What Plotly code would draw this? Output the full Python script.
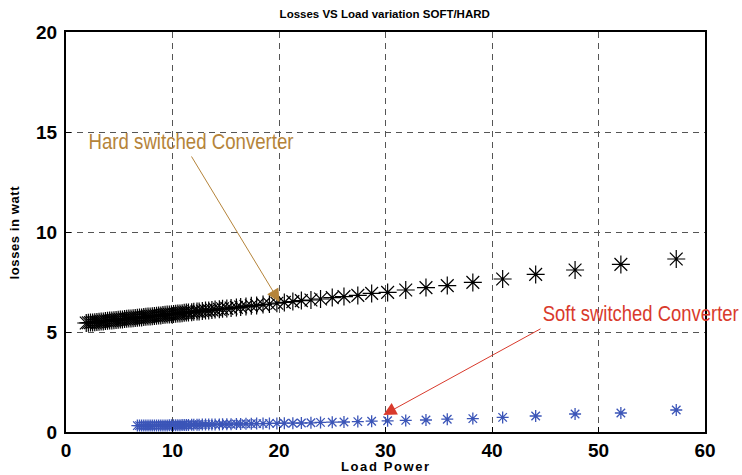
import plotly.graph_objects as go

# Load power sweep (W) shared by both converters
load_power = [
    57.3, 52.1, 47.8, 44.1, 41.0, 38.2, 35.8, 33.8, 31.9, 30.2,
    28.7, 27.4, 26.1, 25.0, 23.9, 23.0, 22.1, 21.3, 20.5, 19.8,
    19.1, 18.5, 17.9, 17.4, 16.9, 16.4, 16.0, 15.5, 15.1, 14.7,
    14.4, 14.0, 13.7, 13.4, 13.1, 12.8, 12.5, 12.3, 12.0, 11.8,
    11.5, 11.3, 11.1, 10.9, 10.7, 10.5, 10.3, 10.1, 9.9, 9.7,
    9.5, 9.3, 9.1, 8.9, 8.7, 8.5, 8.3, 8.1, 7.9, 7.7,
    7.5, 7.3, 7.1, 6.9, 6.7, 6.5, 6.3, 6.1, 5.9, 5.7,
    5.5, 5.3, 5.1, 4.9, 4.7, 4.5, 4.3, 4.1, 3.9, 3.7,
    3.5, 3.3, 3.1, 2.9, 2.7, 2.5, 2.3, 2.1, 1.9,
]

# Hard switched converter losses (W)
hard_losses = [
    8.65, 8.38, 8.10, 7.88, 7.65, 7.48, 7.32, 7.22, 7.10, 6.98,
    6.93, 6.83, 6.77, 6.72, 6.65, 6.60, 6.57, 6.52, 6.48, 6.44,
    6.40, 6.37, 6.33, 6.31, 6.28, 6.25, 6.23, 6.20, 6.18, 6.16,
    6.14, 6.12, 6.10, 6.08, 6.07, 6.05, 6.03, 6.02, 6.01, 5.99,
    5.98, 5.97, 5.96, 5.94, 5.93, 5.92, 5.91, 5.90, 5.89, 5.88,
    5.87, 5.86, 5.85, 5.83, 5.82, 5.81, 5.80, 5.79, 5.78, 5.77,
    5.76, 5.75, 5.73, 5.72, 5.71, 5.70, 5.69, 5.68, 5.67, 5.66,
    5.65, 5.63, 5.62, 5.61, 5.60, 5.59, 5.58, 5.57, 5.56, 5.55,
    5.53, 5.52, 5.51, 5.50, 5.49, 5.48, 5.47, 5.46, 5.45,
]

# Soft switched converter losses (W), measured down to ~6.7 W load
soft_losses = [
    1.10, 0.95, 0.90, 0.80, 0.73, 0.67, 0.64, 0.60, 0.58, 0.56,
    0.54, 0.52, 0.50, 0.49, 0.48, 0.46, 0.45, 0.44, 0.44, 0.43,
    0.43, 0.42, 0.42, 0.41, 0.41, 0.40, 0.40, 0.39, 0.39, 0.39,
    0.38, 0.38, 0.38, 0.37, 0.37, 0.37, 0.36, 0.36, 0.36, 0.36,
    0.35, 0.35, 0.35, 0.35, 0.34, 0.34, 0.34, 0.34, 0.34, 0.34,
    0.33, 0.33, 0.33, 0.33, 0.33, 0.33, 0.33, 0.32, 0.32, 0.32,
    0.32, 0.32, 0.32, 0.32, 0.32,
]
soft_load = load_power[:len(soft_losses)]

x_ticks = [0, 10, 20, 30, 40, 50, 60]
y_ticks = [0, 5, 10, 15, 20]

FONT = "Liberation Sans, Arial, sans-serif"
HARD_COLOR = "#b5843a"
SOFT_COLOR = "#d93a2c"

fig = go.Figure()
fig.add_trace(go.Scatter(
    x=load_power, y=hard_losses, mode="markers", name="Hard",
    marker=dict(symbol="asterisk-open", size=15, color="black",
                line=dict(color="black", width=1.2)),
    cliponaxis=False,
))
fig.add_trace(go.Scatter(
    x=soft_load, y=soft_losses, mode="markers", name="Soft",
    marker=dict(symbol="asterisk-open", size=10, color="#3b55b8",
                line=dict(color="#3b55b8", width=1.3)),
    cliponaxis=False,
))

axis_common = dict(
    showline=True, linecolor="black", linewidth=2, mirror=True,
    ticks="inside", ticklen=5, tickcolor="black", tickwidth=1,
    showgrid=True, gridcolor="#555555", gridwidth=1, griddash="6px,5px",
    zeroline=False, automargin=False,
    tickfont=dict(family=FONT, size=19, color="black", weight="bold"),
)

fig.update_xaxes(range=[0, 60], tickvals=x_ticks, ticklabelstandoff=0,
                 **axis_common)
fig.update_yaxes(range=[0, 20], tickvals=y_ticks, ticklabelstandoff=3,
                 **axis_common)

# Axis titles
fig.add_annotation(x=0.5, y=-0.0875, xref="paper", yref="paper",
                   xanchor="center", yanchor="middle", showarrow=False,
                   text="<b>Load Power</b>",
                   font=dict(family=FONT, size=13, color="black"))
fig.add_annotation(x=-0.081, y=0.5, xref="paper", yref="paper",
                   xanchor="center", yanchor="middle", showarrow=False,
                   textangle=-90, text="<b>losses in watt</b>",
                   font=dict(family=FONT, size=13, color="black"))

# Callouts: arrows, then their labels
fig.add_annotation(x=20.05, y=6.5, ax=11.7, ay=13.85, axref="x", ayref="y",
                   showarrow=True, arrowhead=2, arrowsize=2.6, arrowwidth=1,
                   arrowcolor=HARD_COLOR, text="")
fig.add_annotation(x=11.69, y=14.55, xanchor="center", yanchor="middle",
                   text="Hard switched Converter", showarrow=False,
                   font=dict(family=FONT, size=22, color=HARD_COLOR))
fig.add_annotation(x=29.8, y=0.85, ax=44.7, ay=5.2, axref="x", ayref="y",
                   showarrow=True, arrowhead=2, arrowsize=2.6, arrowwidth=1,
                   arrowcolor=SOFT_COLOR, text="")
fig.add_annotation(x=54.0, y=5.95, xanchor="center", yanchor="middle",
                   text="Soft switched Converter", showarrow=False,
                   font=dict(family=FONT, size=22, color=SOFT_COLOR))

fig.update_layout(
    width=742, height=475,
    margin=dict(l=66, r=37, t=32, b=43),
    paper_bgcolor="white", plot_bgcolor="white",
    showlegend=False,
    title=dict(text="<b>Losses VS Load variation SOFT/HARD</b>", x=0.5185,
               xanchor="center", y=0.97, yanchor="middle",
               font=dict(family=FONT, size=11.5, color="black")),
)

# Condensed callout lettering and letter-spaced axis titles
post_js = """
var gd = document.getElementById('{plot_id}');
var widths = {'Hard switched Converter': 205, 'Soft switched Converter': 196};
var spacing = {'Load Power': '1.6px', 'losses in watt': '0.6px'};
function styleText() {
  gd.querySelectorAll('.annotation-text').forEach(function (t) {
    var s = t.textContent;
    if (widths[s]) {
      t.setAttribute('textLength', widths[s]);
      t.setAttribute('lengthAdjust', 'spacingAndGlyphs');
    }
    if (spacing[s]) { t.style.letterSpacing = spacing[s]; }
  });
}
styleText();
gd.on('plotly_afterplot', styleText);
"""

fig.write_html("out.html", post_script=post_js)
